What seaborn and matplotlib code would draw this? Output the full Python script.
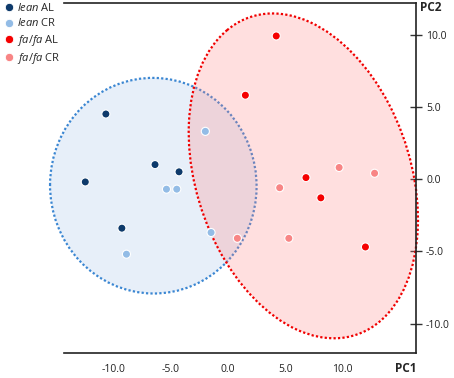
import matplotlib
matplotlib.use("Agg")
import matplotlib.pyplot as plt
from matplotlib.patches import Ellipse
import seaborn as sns
import pandas as pd
import numpy as np

# PCA scores
lean_al_x = [-10.7, -6.4, -4.3, -12.5, -9.3]
lean_al_y = [4.5, 1.0, 0.5, -0.2, -3.4]
lean_cr_x = [-2.0, -5.4, -4.5, -1.5, -8.9]
lean_cr_y = [3.3, -0.7, -0.7, -3.7, -5.2]
fafa_al_x = [4.2, 1.5, 6.8, 8.1, 12.0]
fafa_al_y = [9.9, 5.8, 0.1, -1.3, -4.7]
fafa_cr_x = [9.7, 12.8, 4.5, 5.3, 0.8]
fafa_cr_y = [0.8, 0.4, -0.6, -4.1, -4.1]

groups = ["lean AL", "lean CR", "fa/fa AL", "fa/fa CR"]
legend_labels = [r"$\mathit{lean}$ AL", r"$\mathit{lean}$ CR",
                 r"$\mathit{fa/fa}$ AL", r"$\mathit{fa/fa}$ CR"]
colors = ["#0e3a6b", "#93bce6", "#f50000", "#f88585"]
ticks = [-10, -5, 0, 5, 10]

df = pd.concat([
    pd.DataFrame({"PC1": lean_al_x, "PC2": lean_al_y, "group": "lean AL"}),
    pd.DataFrame({"PC1": lean_cr_x, "PC2": lean_cr_y, "group": "lean CR"}),
    pd.DataFrame({"PC1": fafa_al_x, "PC2": fafa_al_y, "group": "fa/fa AL"}),
    pd.DataFrame({"PC1": fafa_cr_x, "PC2": fafa_cr_y, "group": "fa/fa CR"}),
], ignore_index=True)
df["strain"] = np.where(df["group"].str.startswith("lean"), "lean", "fafa")

sns.set_style("white")
plt.rcParams["font.family"] = ["Open Sans", "DejaVu Sans"]
plt.rcParams["mathtext.fontset"] = "custom"
plt.rcParams["mathtext.it"] = "Open Sans:italic"
plt.rcParams["mathtext.rm"] = "Open Sans"

fig = plt.figure(figsize=(4.54, 3.78), dpi=100)
ax = fig.add_axes([0.141, 0.066, 0.776, 0.926])


def conf_ellipse(x, y, face, edge, alpha):
    # 95% confidence ellipse from the group's covariance
    cov = np.cov(x, y)
    vals, vecs = np.linalg.eigh(cov)
    k = 5.991
    w, h = 2 * np.sqrt(vals * k)
    ang = np.degrees(np.arctan2(vecs[1, 0], vecs[0, 0]))
    ax.add_patch(Ellipse((np.mean(x), np.mean(y)), w, h, angle=ang,
                         facecolor=face, alpha=alpha, edgecolor="none",
                         zorder=1, clip_on=False))
    ax.add_patch(Ellipse((np.mean(x), np.mean(y)), w, h, angle=ang,
                         facecolor="none", edgecolor=edge, lw=1.6,
                         linestyle=(0, (1, 1)), zorder=1, clip_on=False))


lean = df[df["strain"] == "lean"]
fafa = df[df["strain"] == "fafa"]
conf_ellipse(lean["PC1"], lean["PC2"], "#a9c6ea", "#3a86d2", 0.28)
conf_ellipse(fafa["PC1"], fafa["PC2"], "#ff8080", "#f00000", 0.25)

sns.scatterplot(data=df, x="PC1", y="PC2", hue="group", hue_order=groups,
                palette=colors, s=34, edgecolor="white", linewidth=0.8,
                ax=ax, zorder=3, legend=False)

ax.set_xlim(-14.36, 16.45)
ax.set_ylim(-12.04, 12.18)
ax.set_xticks(ticks)
ax.set_xticklabels([f"{t:.1f}" for t in ticks])
ax.set_yticks(ticks)
ax.set_yticklabels([f"{t:.1f}" for t in ticks])
ax.yaxis.tick_right()
ax.tick_params(axis="both", direction="inout", length=8, width=1,
               color="#333333", labelsize=7.5, labelcolor="#222222")
ax.tick_params(axis="x", pad=4)
ax.tick_params(axis="y", pad=3)
ax.set_xlabel("")
ax.set_ylabel("")
ax.spines["left"].set_visible(False)
for s in ["top", "right", "bottom"]:
    ax.spines[s].set_color("#222222")
    ax.spines[s].set_linewidth(1.2)

fig.text(0.918, 0.024, "PC1", ha="right", va="center", fontsize=8.5, fontweight="bold")
fig.text(0.925, 0.979, "PC2", ha="left", va="center", fontsize=8.5, fontweight="bold")

handles = [plt.Line2D([], [], marker="o", ls="", color=c, markersize=6,
                      markeredgecolor="white", markeredgewidth=0.6) for c in colors]
fig.legend(handles, legend_labels, loc="upper left", bbox_to_anchor=(-0.008, 1.012),
           frameon=False, fontsize=8, handletextpad=0.15, labelspacing=0.3,
           borderaxespad=0.2, handlelength=1.1)

plt.savefig("out.png", dpi=100)
